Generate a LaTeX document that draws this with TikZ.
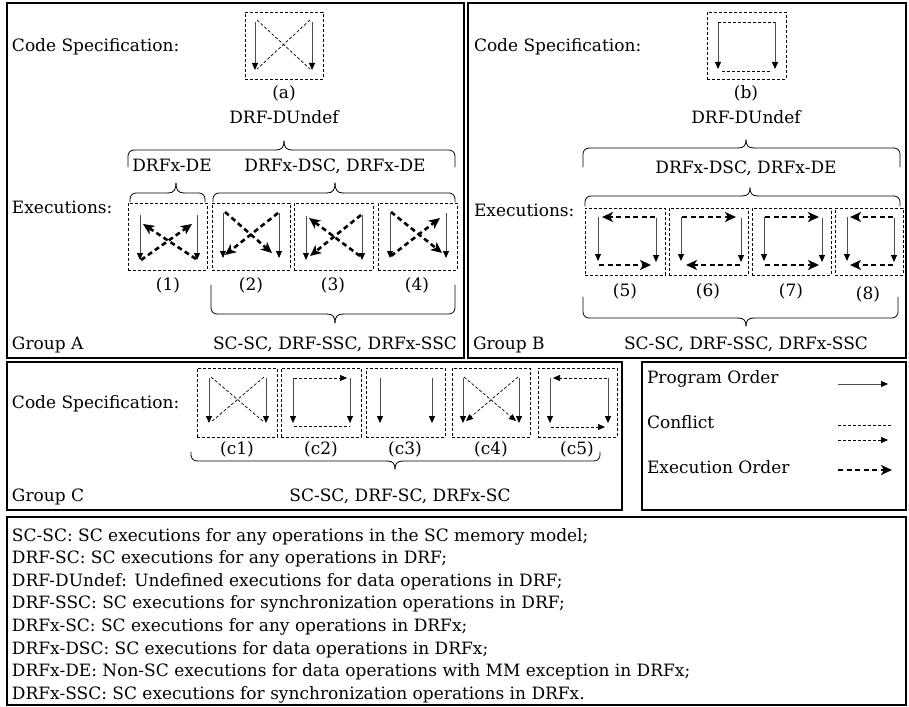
\documentclass[tikz,border=0pt]{standalone}
\usepackage{fontspec}
\setmainfont{DejaVu Serif}
\usetikzlibrary{arrows.meta}
\newcommand{\mybrace}[6]{%
 \draw[brc, rounded corners=6pt] (#1,#4) -- (#1,#5) -- ({#3-8},#5);
 \draw[brc] ({#3-8},#5) .. controls ({#3-2},#5) and (#3,{#5+0.35*(#6-#5)}) .. (#3,#6);
 \draw[brc] (#3,#6) .. controls (#3,{#5+0.35*(#6-#5)}) and ({#3+2},#5) .. ({#3+8},#5);
 \draw[brc, rounded corners=6pt] ({#3+8},#5) -- (#2,#5) -- (#2,#4);
}
\begin{document}
\begin{tikzpicture}[x=1pt,y=-1pt,
  every node/.style={font=\fontsize{17}{22.6}\selectfont, inner sep=0pt, outer sep=0pt},
  grp/.style={draw=black, line width=1.1pt},
  dbox/.style={draw=black, line width=0.8pt, dash pattern=on 3pt off 2pt, anchor=north west},
  po/.style={draw=black!70, line width=1pt, -{Triangle[length=7pt,width=6pt,color=black]}},
  cf/.style={draw=black, line width=0.7pt, dash pattern=on 3pt off 2pt},
  cfa/.style={cf, -{Triangle[length=7pt,width=6pt]}},
  eo/.style={draw=black, line width=2.6pt, dash pattern=on 5pt off 3.5pt, -{Stealth[length=11pt,width=10pt,inset=3pt]}},
  brc/.style={draw=black, line width=0.8pt, line cap=round},
]
\useasboundingbox (0,0) rectangle (909,706);
\fill[white] (0,0) rectangle (909,706);

% ---------- group frames ----------
\draw[grp] (7,3) rectangle (464,358);
\draw[grp] (468,3) rectangle (906,358);
\draw[grp] (7,362) rectangle (622,510);
\draw[grp] (642,362) rectangle (906,510);
\draw[grp] (7,517) rectangle (906,705);

% ================= GROUP A =================
\node[anchor=base west] (csA) at (12,52) {Code Specification:};
\node[dbox, minimum width=78pt, minimum height=67pt] (boxa) at (245,12) {};
\begin{scope}[shift={(245,12)}]
 \draw[po] (10,10) -- (10,58);
 \draw[po] (67,10) -- (67,58);
 \draw[cf] (12,8) -- (65,57);
 \draw[cf] (65,8) -- (12,57);
\end{scope}
\node[anchor=base] (la) at (284,99) {(a)};
\node[anchor=base] (undefA) at (284,123) {DRF-DUndef};
\mybrace{128}{455}{284}{167}{150}{141}
\node[anchor=base] (deA) at (172,171) {DRFx-DE};
\node[anchor=base] (dscA) at (335,171) {DRFx-DSC, DRFx-DE};
\mybrace{130}{205}{176}{202}{193}{183}
\mybrace{213}{455}{335}{202}{193}{183}
\node[anchor=base west] (exA) at (12,213) {Executions:};

% box (1)
\node[dbox, minimum width=79pt, minimum height=67pt] (b1) at (128,203) {};
\begin{scope}[shift={(128,203)}]
 \draw[po] (12,12) -- (12,57);
 \draw[po] (69,12) -- (69,57);
 \draw[eo] (13,57) -- (64,21);
 \draw[eo] (68,56) -- (15,21);
\end{scope}
% box (2)
\node[dbox, minimum width=78pt, minimum height=67pt] (b2) at (212,203) {};
\begin{scope}[shift={(212,203)}]
 \draw[po] (11,10) -- (11,55);
 \draw[po] (67,10) -- (67,55);
 \draw[eo] (13,9) -- (60,50);
 \draw[eo] (66,10) -- (13,52);
\end{scope}
% box (3)
\node[dbox, minimum width=79pt, minimum height=67pt] (b3) at (294,203) {};
\begin{scope}[shift={(294,203)}]
 \draw[po] (12,13) -- (12,57);
 \draw[po] (68,12) -- (68,57);
 \draw[eo] (67,12) -- (16,53);
 \draw[eo] (66,53) -- (15,15);
\end{scope}
% box (4)
\node[dbox, minimum width=79pt, minimum height=67pt] (b4) at (378,203) {};
\begin{scope}[shift={(378,203)}]
 \draw[po] (12,10) -- (12,55);
 \draw[po] (68,10) -- (68,55);
 \draw[eo] (13,9) -- (64,50);
 \draw[eo] (13,53) -- (62,15);
\end{scope}
\node[anchor=base] (l1) at (168,290) {(1)};
\node[anchor=base] (l2) at (251,290) {(2)};
\node[anchor=base] (l3) at (333,290) {(3)};
\node[anchor=base] (l4) at (417,290) {(4)};
\mybrace{211}{455}{335}{285}{314}{323}
\node[anchor=base west] (gA) at (12,349) {Group A};
\node[anchor=base] (scA) at (335,349) {SC-SC, DRF-SSC, DRFx-SSC};

% ================= GROUP B =================
\node[anchor=base west] (csB) at (474,52) {Code Specification:};
\node[dbox, minimum width=79pt, minimum height=67pt] (boxb) at (707,12) {};
\begin{scope}[shift={(707,12)}]
 \draw[po] (11,10) -- (11,57);
 \draw[po] (68,10) -- (68,57);
 \draw[cf] (11,10) -- (68,10);
 \draw[cf] (15,59) -- (64,59);
\end{scope}
\node[anchor=base] (lb) at (746,99) {(b)};
\node[anchor=base] (undefB) at (746,123) {DRF-DUndef};
\mybrace{583}{900}{746}{167}{148}{140}
\node[anchor=base] (dscB) at (746,173) {DRFx-DSC, DRFx-DE};
\mybrace{585}{900}{750}{206}{196}{188}
\node[anchor=base west] (exB) at (474,216) {Executions:};
% box (5)
\node[dbox, minimum width=80pt, minimum height=67pt] (b5) at (585,208) {};
\begin{scope}[shift={(585,208)}]
 \draw[po] (13,9) -- (13,53);
 \draw[po] (71,10) -- (71,54);
 \draw[eo] (70,9) -- (17,9);
 \draw[eo] (14,57) -- (66,57);
\end{scope}
% box (6)
\node[dbox, minimum width=79pt, minimum height=67pt] (b6) at (669,208) {};
\begin{scope}[shift={(669,208)}]
 \draw[po] (12,9) -- (12,53);
 \draw[po] (72,10) -- (72,54);
 \draw[eo] (13,9) -- (67,9);
 \draw[eo] (71,57) -- (17,57);
\end{scope}
% box (7)
\node[dbox, minimum width=79pt, minimum height=67pt] (b7) at (752,208) {};
\begin{scope}[shift={(752,208)}]
 \draw[po] (12,9) -- (12,53);
 \draw[po] (70,10) -- (70,54);
 \draw[eo] (13,9) -- (67,9);
 \draw[eo] (13,57) -- (67,57);
\end{scope}
% box (8)
\node[dbox, minimum width=68pt, minimum height=67pt] (b8) at (835,208) {};
\begin{scope}[shift={(835,208)}]
 \draw[po] (12,9) -- (12,53);
 \draw[po] (59,10) -- (59,54);
 \draw[eo] (58,9) -- (15,9);
 \draw[eo] (58,57) -- (15,57);
\end{scope}
\node[anchor=base] (l5) at (625,296) {(5)};
\node[anchor=base] (l6) at (708,296) {(6)};
\node[anchor=base] (l7) at (791,296) {(7)};
\node[anchor=base] (l8) at (868,299) {(8)};
\mybrace{583}{898}{746}{297}{318}{326}
\node[anchor=base west] (gB) at (473,349) {Group B};
\node[anchor=base] (scB) at (746,349) {SC-SC, DRF-SSC, DRFx-SSC};

% ================= GROUP C =================
\node[anchor=base west] (csC) at (12,408) {Code Specification:};
% c1
\node[dbox, minimum width=80pt, minimum height=69pt] (c1) at (197,368) {};
\begin{scope}[shift={(197,368)}]
 \draw[po] (12,10) -- (12,55);
 \draw[po] (69,10) -- (69,55);
 \draw[cf] (14,9) -- (67,54);
 \draw[cf] (67,9) -- (14,54);
\end{scope}
% c2
\node[dbox, minimum width=80pt, minimum height=69pt] (c2) at (281,368) {};
\begin{scope}[shift={(281,368)}]
 \draw[po] (12,10) -- (12,55);
 \draw[po] (69,10) -- (69,55);
 \draw[cfa] (13,10) -- (66,10);
 \draw[cf] (13,58) -- (69,58);
\end{scope}
% c3
\node[dbox, minimum width=79pt, minimum height=69pt] (c3) at (366,368) {};
\begin{scope}[shift={(366,368)}]
 \draw[po] (14,10) -- (14,55);
 \draw[po] (66,10) -- (66,55);
\end{scope}
% c4
\node[dbox, minimum width=78pt, minimum height=69pt] (c4) at (452,368) {};
\begin{scope}[shift={(452,368)}]
 \draw[po] (11,10) -- (11,55);
 \draw[po] (67,10) -- (67,55);
 \draw[cfa] (12,9) -- (64,53);
 \draw[cfa] (66,9) -- (14,53);
\end{scope}
% c5
\node[dbox, minimum width=79pt, minimum height=69pt] (c5) at (538,368) {};
\begin{scope}[shift={(538,368)}]
 \draw[po] (12,10) -- (12,55);
 \draw[po] (70,10) -- (70,55);
 \draw[cfa] (69,10) -- (15,10);
 \draw[cfa] (13,59) -- (67,59);
\end{scope}
\node[anchor=base] (lc1) at (237,454) {(c1)};
\node[anchor=base] (lc2) at (321,454) {(c2)};
\node[anchor=base] (lc3) at (405,454) {(c3)};
\node[anchor=base] (lc4) at (491,454) {(c4)};
\node[anchor=base] (lc5) at (577,454) {(c5)};
\mybrace{191}{600}{395}{452}{461}{469}
\node[anchor=base west] (gC) at (12,501) {Group C};
\node[anchor=base] (scC) at (400,501) {SC-SC, DRF-SC, DRFx-SC};

% ================= LEGEND =================
\node[anchor=base west] (lgpo) at (647,383) {Program Order};
\node[anchor=base west] (lgcf) at (647,428) {Conflict};
\node[anchor=base west] (lgeo) at (647,473) {Execution Order};
\coordinate (poA) at (838,384); \coordinate (poB) at (888,384);
\coordinate (cfA) at (838,425); \coordinate (cfB) at (893,425);
\coordinate (cfaA) at (838,440); \coordinate (cfaB) at (888,440);
\coordinate (eoA) at (838,470); \coordinate (eoB) at (892,470);
\draw[po] (poA) -- (poB);
\draw[cf] (cfA) -- (cfB);
\draw[cfa] (cfaA) -- (cfaB);
\draw[eo] (eoA) -- (eoB);

% ================= TEXT =================
\node[anchor=base west] (t1) at (12,541) {SC-SC: SC executions for any operations in the SC memory model;};
\node[anchor=base west] (t2) at (12,563.6) {DRF-SC: SC executions for any operations in DRF;};
\node[anchor=base west] (t3) at (12,586.2) {DRF-DUndef: Undefined executions for data operations in DRF;};
\node[anchor=base west] (t4) at (12,608.8) {DRF-SSC: SC executions for synchronization operations in DRF;};
\node[anchor=base west] (t5) at (12,631.4) {DRFx-SC: SC executions for any operations in DRFx;};
\node[anchor=base west] (t6) at (12,654) {DRFx-DSC: SC executions for data operations in DRFx;};
\node[anchor=base west] (t7) at (12,676.6) {DRFx-DE: Non-SC executions for data operations with MM exception in DRFx;};
\node[anchor=base west] (t8) at (12,699.2) {DRFx-SSC: SC executions for synchronization operations in DRFx.};
\end{tikzpicture}
\end{document}
